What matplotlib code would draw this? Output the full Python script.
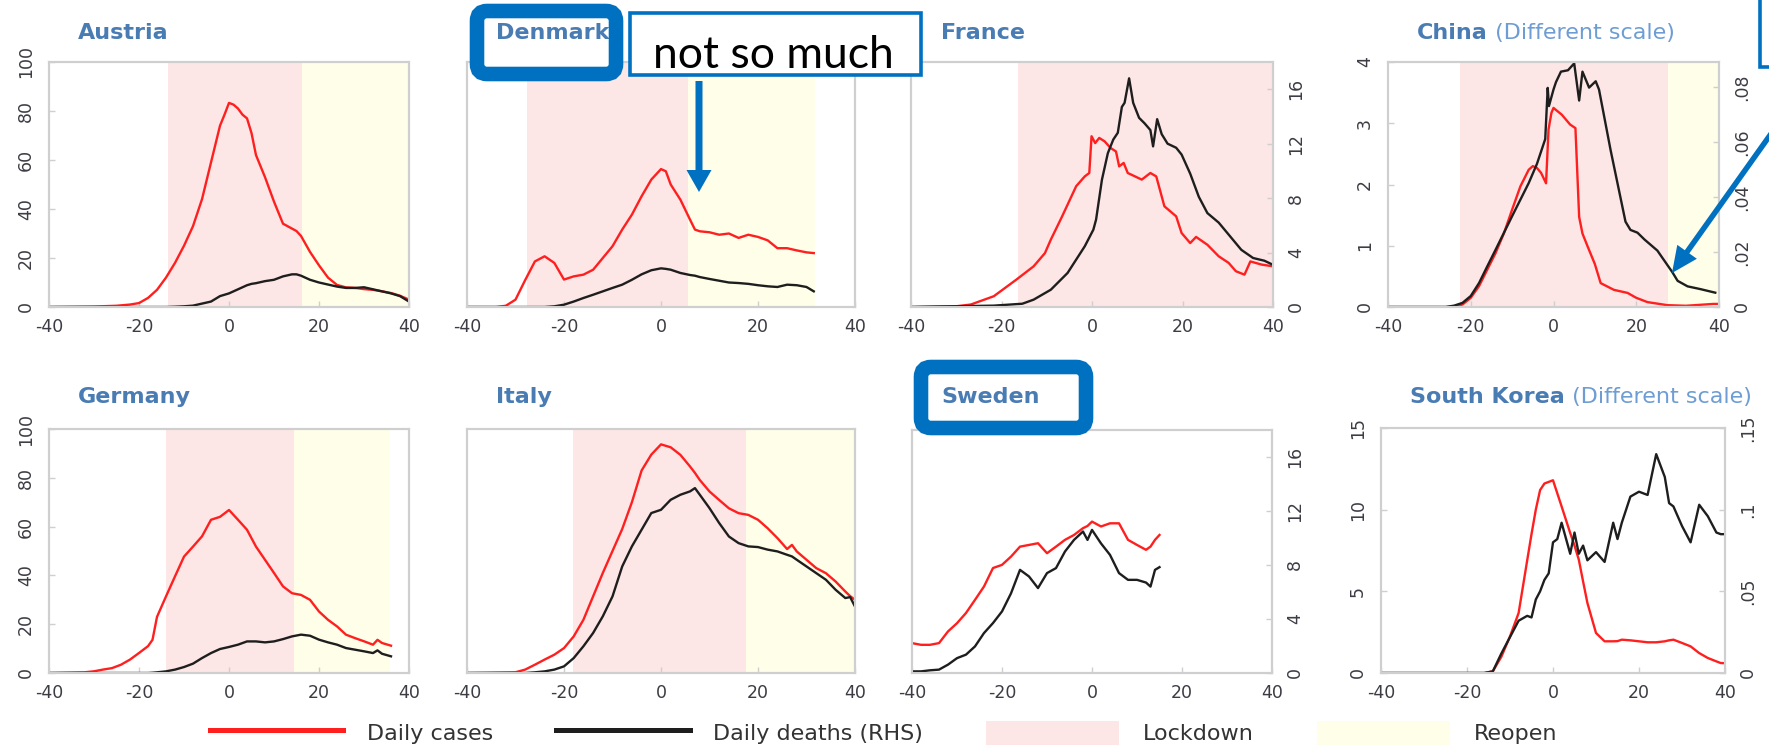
import matplotlib
matplotlib.use("Agg")
import matplotlib.pyplot as plt
from matplotlib import font_manager
from matplotlib.patches import FancyBboxPatch, Rectangle, FancyArrow, Patch
from matplotlib.lines import Line2D

# -------------------------
# Data (days around the peak)
# cases on the left axis, deaths on the right axis (RHS)
# -------------------------
aut_days = [-40, -30, -25, -22, -20, -18, -16, -14, -12, -10, -8, -6, -4, -2, -1, 0, 1, 2, 3, 4,
            5, 6, 8, 10, 12, 14, 15, 16, 18, 20, 22, 24, 26, 28, 30, 32, 34, 36, 38, 40]
aut_cases = [0, 0.2, 0.5, 1, 1.6, 3.7, 7, 12, 18, 25, 33, 44, 59, 74, 78.5, 83.3, 82.6, 81, 78.5, 77,
             71, 62, 53, 43, 34, 32, 31, 29, 22.5, 17, 12, 9, 8, 7.8, 7.3, 7, 6.4, 5.7, 4.6, 3]
aut_deaths = [0, 0, 0, 0, 0, 0, 0, 0, 0.02, 0.05, 0.1, 0.25, 0.4, 0.8, 0.9, 1.0, 1.15, 1.3, 1.45, 1.6,
              1.7, 1.75, 1.9, 2.0, 2.25, 2.4, 2.4, 2.3, 2.0, 1.8, 1.65, 1.5, 1.4, 1.4, 1.45, 1.3, 1.15, 1.0, 0.8, 0.4]
aut_lockdown = (-13.5, 16.3)
aut_reopen = (16.3, 40)

dnk_days = [-40, -34, -32, -30, -28, -26, -24, -22, -20, -18, -16, -14, -12, -10, -8, -6, -4, -2, 0, 1,
            2, 4, 6, 7, 8, 10, 12, 14, 16, 18, 20, 22, 24, 26, 28, 30, 31.5]
dnk_cases = [0, 0, 0.5, 3, 11, 18.6, 20.7, 18, 11.2, 12.5, 13.2, 15.2, 20, 24.8, 31.6, 37.7, 45.2, 52, 56.3, 55.4,
             50, 43.8, 35.6, 31.6, 30.9, 30.5, 29.5, 30, 28.2, 29.5, 28.6, 27.2, 24, 24, 23.1, 22.3, 22]
dnk_deaths = [0, 0, 0, 0, 0, 0, 0, 0.05, 0.17, 0.4, 0.66, 0.9, 1.15, 1.4, 1.64, 2.0, 2.4, 2.7, 2.84, 2.8,
              2.74, 2.5, 2.35, 2.3, 2.2, 2.06, 1.93, 1.8, 1.76, 1.7, 1.6, 1.52, 1.47, 1.64, 1.6, 1.47, 1.15]
dnk_lockdown = (-27.6, 5.5)
dnk_reopen = (5.5, 31.8)

fra_case_days = [-40, -30, -26.8, -21.7, -16.7, -12.9, -10.4, -9.1, -6.6, -3.5, -1.6, -0.6, -0.1, 0.7, 1.6,
                 2.8, 4.1, 5.3, 6.0, 7.0, 7.9, 11.0, 12.9, 14.2, 16.0, 18.6, 19.8, 21.7, 23.0, 25.5, 28.0,
                 30.2, 31.8, 33.7, 35.0, 37.5, 40]
fra_cases = [0, 0.3, 1.0, 4.4, 11.2, 16.6, 22.0, 27.5, 37.0, 49.3, 53.3, 54.7, 69.7, 66.9, 69.0,
             67.6, 64.9, 63.5, 57.4, 58.8, 54.7, 52.0, 54.7, 53.3, 41.1, 37.0, 30.2, 26.1, 28.6, 25.4, 20.7,
             18.0, 14.6, 13.2, 18.6, 17.3, 16.6]
fra_death_days = [-40, -21.7, -15.4, -12.9, -9.1, -5.4, -1.6, 0.3, 0.9, 2.2, 3.5, 4.7, 5.7, 6.6, 7.2, 8.2,
                  9.1, 10.4, 11.6, 12.9, 13.5, 14.4, 15.4, 16.7, 18.6, 19.8, 21.7, 23.6, 25.5, 28.0, 30.5,
                  33.0, 35.6, 38.1, 40]
fra_deaths = [0, 0.1, 0.24, 0.54, 1.27, 2.5, 4.46, 5.68, 6.42, 9.36, 11.3, 12.3, 12.8, 14.7, 15.0, 16.8,
              15.0, 13.9, 13.5, 13.0, 11.8, 13.8, 12.7, 12.0, 11.7, 11.2, 9.8, 8.1, 6.9, 6.2, 5.2,
              4.2, 3.6, 3.4, 3.1]
fra_lockdown = (-16.3, 40)

chn_case_days = [-40, -26, -24, -22, -20, -18, -16, -14, -12, -10, -8, -6, -5, -4, -3, -1.8, -1.2, -0.5, 0, 2,
                 4, 5.3, 6.2, 7, 8.3, 10, 11.4, 14.6, 17.9, 20, 22.7, 27.5, 32, 38.6, 40]
chn_cases = [0, 0, 0.01, 0.04, 0.15, 0.34, 0.61, 0.88, 1.2, 1.59, 1.97, 2.24, 2.3, 2.27, 2.19, 2.02, 2.9, 3.17, 3.25, 3.14,
             2.98, 2.92, 1.47, 1.2, 0.98, 0.7, 0.39, 0.28, 0.23, 0.15, 0.08, 0.03, 0.02, 0.05, 0.05]
chn_death_days = [-40, -26, -24, -22, -20, -18, -16, -14, -12, -10, -8, -6, -4, -2, -1.4, -1.1, 0, 0.6, 1.8, 3.5,
                  5.0, 6.2, 7.0, 8.6, 10.2, 11.0, 13.8, 17.4, 18.6, 20.3, 22, 25.1, 28.7, 30, 32.4, 35.5, 39.1]
chn_deaths = [0, 0, 0.0005, 0.0015, 0.004, 0.0087, 0.0148, 0.0208, 0.0269, 0.033, 0.039, 0.045, 0.052, 0.061,
              0.0796, 0.073, 0.079, 0.0817, 0.0855, 0.086, 0.0885, 0.075, 0.0855, 0.0797, 0.082, 0.079, 0.057,
              0.031, 0.028, 0.027, 0.0245, 0.0205, 0.0127, 0.0095, 0.0075, 0.0065, 0.0052]
chn_lockdown = (-22.5, 27.7)
chn_reopen = (27.7, 40)

deu_days = [-40, -32, -30, -28, -26, -24, -22, -20, -18, -17, -16, -14, -12, -10, -8, -6, -4, -2, 0, 2,
            4, 6, 8, 10, 12, 14, 16, 18, 20, 22, 24, 26, 28, 30, 32, 33, 34, 36]
deu_cases = [0, 0.3, 0.7, 1.4, 2, 3.4, 5.5, 8.2, 11, 13.6, 23, 31.4, 39.6, 47.7, 51.8, 56, 62.8, 64, 66.8, 62.8,
             58.7, 51.8, 46.4, 41, 35.5, 32.7, 32, 30, 25.2, 21.8, 19.1, 15.7, 14.3, 13, 11.6, 13.6, 12.3, 11.2]
deu_deaths = [0, 0, 0, 0, 0, 0, 0, 0, 0, 0.02, 0.05, 0.12, 0.25, 0.44, 0.69, 1.1, 1.47, 1.77, 1.92, 2.09,
              2.33, 2.33, 2.26, 2.33, 2.5, 2.7, 2.83, 2.75, 2.46, 2.26, 2.09, 1.84, 1.72, 1.6, 1.47, 1.67, 1.42, 1.23]
deu_lockdown = (-13.9, 14.4)
deu_reopen = (14.4, 35.8)

ita_days = [-40, -30, -28, -26, -24, -22, -20, -18, -16, -14, -12, -10, -8, -6, -4, -2, 0, 2, 4, 6,
            7, 8, 10, 12, 14, 16, 18, 20, 22, 24, 26, 27, 28, 30, 32, 34, 36, 38, 39, 40]
ita_cases = [0, 0.3, 1.4, 3.4, 5.5, 7.5, 10.2, 15, 21.8, 31.4, 41, 50, 59, 70, 83, 89.5, 93.7, 92.5, 89.4, 84.6,
             82, 79.1, 74.4, 70.9, 67.5, 65.5, 64.8, 62.8, 59.3, 55.3, 50.8, 52.5, 49.8, 46.4, 43, 40.9, 37.5, 33.4, 31.5, 30]
ita_deaths = [0, 0, 0, 0.05, 0.12, 0.25, 0.49, 1.1, 1.97, 2.95, 4.18, 5.65, 7.86, 9.34, 10.57, 11.8, 12.04, 12.78, 13.15, 13.4,
              13.64, 13.15, 12.16, 11.06, 10.07, 9.58, 9.34, 9.29, 9.1, 8.97, 8.72, 8.6, 8.35, 7.86, 7.37, 6.88, 6.14, 5.53, 5.6, 4.9]
ita_lockdown = (-18.2, 17.6)
ita_reopen = (17.6, 40)

swe_days = [-40, -38, -36, -34, -32, -30, -28, -26, -24, -22, -20, -18, -16, -14, -12, -10, -8, -6, -4, -2,
            -1, 0, 2, 4, 6, 8, 10, 12, 13, 14, 15]
swe_cases = [12.3, 11.6, 11.6, 12.3, 17.1, 20.5, 24.7, 30.1, 35.6, 43.2, 44.5, 47.9, 52, 52.7, 53.4, 49.3, 52, 54.8, 56.8, 59.6,
             60.5, 62.3, 60.3, 61.6, 61.6, 54.8, 52.7, 50.7, 52, 54.8, 56.8]
swe_deaths = [0.12, 0.12, 0.2, 0.25, 0.62, 1.1, 1.36, 1.97, 2.96, 3.7, 4.56, 5.9, 7.64, 7.15, 6.29, 7.4, 7.77, 9.0, 9.86, 10.48,
              9.86, 10.6, 9.6, 8.75, 7.4, 6.9, 6.9, 6.7, 6.4, 7.64, 7.84]

kor_days = [-40, -16, -14, -12, -10, -8, -6, -5, -4, -3, -2, -1, 0, 1, 2, 4, 5, 6, 7, 8,
            10, 12, 14, 15, 16, 18, 20, 22, 24, 26, 27, 28, 30, 32, 34, 36, 38, 39, 40]
kor_cases = [0, 0, 0.1, 1.0, 2.24, 3.67, 6.9, 8.5, 10, 11.2, 11.6, 11.7, 11.8, 11.0, 10.2, 8.57, 7.8, 6.94, 5.6, 4.29,
             2.45, 1.94, 1.94, 1.95, 2.04, 2.0, 1.94, 1.88, 1.88, 1.94, 2.0, 2.04, 1.84, 1.63, 1.22, 0.92, 0.71, 0.61, 0.6]
kor_deaths = [0, 0, 0.001, 0.012, 0.022, 0.032, 0.035, 0.034, 0.045, 0.05, 0.057, 0.061, 0.080, 0.082, 0.092, 0.073, 0.086, 0.073, 0.078, 0.069,
              0.074, 0.068, 0.092, 0.082, 0.092, 0.108, 0.111, 0.109, 0.134, 0.120, 0.104, 0.102, 0.090, 0.080, 0.103, 0.096, 0.086, 0.085, 0.085]

x_ticks = [-40, -20, 0, 20, 40]
share_left_ticks = [0, 20, 40, 60, 80, 100]
share_right_ticks = [0, 4, 8, 12, 16]
chn_left_ticks = [0, 1, 2, 3, 4]
chn_right_ticks = [0, 0.02, 0.04, 0.06, 0.08]
chn_right_labels = ["0", ".02", ".04", ".06", ".08"]
kor_left_ticks = [0, 5, 10, 15]
kor_right_ticks = [0, 0.05, 0.1, 0.15]
kor_right_labels = ["0", ".05", ".1", ".15"]

# -------------------------
# Style
# -------------------------
RED = "#ff1f1f"
BLACK = "#1e1e1e"
PINK = "#fde6e6"
YELLOW = "#fefee9"
SPINE = "#cfcfcf"
TITLE_BLUE = "#4a7cb4"
TITLE_LIGHT = "#6d9dd3"
NOTE_BLUE = "#0070c0"
TICK_COLOR = "#3c3c44"

avail = {f.name for f in font_manager.fontManager.ttflist}
if "Liberation Sans Narrow" in avail:
    TICK_FONT, TICK_SIZE = "Liberation Sans Narrow", 15
else:
    TICK_FONT, TICK_SIZE = "DejaVu Sans", 12.5
plt.rcParams["axes.unicode_minus"] = False

W, H = 1769, 751
fig = plt.figure(figsize=(W / 100, H / 100), dpi=100)


def px_axes(x0, y0, x1, y1):
    """Add axes from pixel box (top-left origin)."""
    return fig.add_axes([x0 / W, 1 - y1 / H, (x1 - x0) / W, (y1 - y0) / H])


def style_ticks(ax, ticks, labels):
    if ticks is None:
        ax.set_yticks([])
        return
    ax.set_yticks(ticks)
    ax.set_yticklabels(labels if labels else [str(t) for t in ticks],
                       rotation=90, va="center", fontfamily=TICK_FONT,
                       fontsize=TICK_SIZE, color=TICK_COLOR)
    ax.tick_params(axis="y", direction="in", length=4, width=1, color=SPINE, pad=10)


def draw_panel(box, case_days, cases, death_days, deaths, case_top=100, death_top=18,
               lockdown=None, reopen=None, left=None, left_labels=None,
               right=None, right_labels=None):
    ax = px_axes(*box)
    ax.set_xlim(-40, 40)
    ax.set_ylim(0, case_top)
    if lockdown:
        ax.axvspan(*lockdown, color=PINK, lw=0, zorder=0)
    if reopen:
        ax.axvspan(*reopen, color=YELLOW, lw=0, zorder=0)
    ax.plot(case_days, cases, color=RED, lw=1.7, zorder=2)

    ax2 = ax.twinx()
    ax2.set_ylim(0, death_top)
    ax2.plot(death_days, deaths, color=BLACK, lw=1.7, zorder=2)

    ax.set_xticks(x_ticks)
    ax.set_xticklabels([str(t) for t in x_ticks], fontfamily=TICK_FONT,
                       fontsize=TICK_SIZE, color=TICK_COLOR)
    ax.tick_params(axis="x", direction="in", length=4, width=1, color=SPINE, pad=8)
    style_ticks(ax, left, left_labels)
    style_ticks(ax2, right, right_labels)
    for a in (ax, ax2):
        for s in a.spines.values():
            s.set_color(SPINE)
            s.set_linewidth(1.5)
    return ax


# top row
draw_panel((49, 62, 409, 307), aut_days, aut_cases, aut_days, aut_deaths,
           lockdown=aut_lockdown, reopen=aut_reopen, left=share_left_ticks)
draw_panel((467, 62, 855, 307), dnk_days, dnk_cases, dnk_days, dnk_deaths,
           lockdown=dnk_lockdown, reopen=dnk_reopen)
draw_panel((911, 62, 1273, 307), fra_case_days, fra_cases, fra_death_days, fra_deaths,
           lockdown=fra_lockdown, right=share_right_ticks)
draw_panel((1388, 62, 1719, 307), chn_case_days, chn_cases, chn_death_days, chn_deaths,
           case_top=4, death_top=0.089, lockdown=chn_lockdown, reopen=chn_reopen,
           left=chn_left_ticks, right=chn_right_ticks, right_labels=chn_right_labels)
# bottom row
draw_panel((49, 429, 409, 673), deu_days, deu_cases, deu_days, deu_deaths,
           lockdown=deu_lockdown, reopen=deu_reopen, left=share_left_ticks)
draw_panel((467, 429, 855, 673), ita_days, ita_cases, ita_days, ita_deaths,
           lockdown=ita_lockdown, reopen=ita_reopen)
draw_panel((912, 430, 1272, 673), swe_days, swe_cases, swe_days, swe_deaths,
           right=share_right_ticks)
draw_panel((1381, 428, 1725, 673), kor_days, kor_cases, kor_days, kor_deaths,
           case_top=15, death_top=0.15, left=kor_left_ticks,
           right=kor_right_ticks, right_labels=kor_right_labels)

# -------------------------
# Overlay in pixel coords: titles, call-out boxes, arrows
# -------------------------
ov = fig.add_axes([0, 0, 1, 1], zorder=10)
ov.set_xlim(0, W)
ov.set_ylim(H, 0)
ov.axis("off")

title_font = dict(fontsize=16, fontweight="bold", color=TITLE_BLUE, va="center", ha="left", zorder=5)
titles = [("Austria", 78, 33, False), ("Denmark", 496, 33, False), ("France", 941, 33, False),
          ("China", 1417, 33, True), ("Germany", 78, 397, False), ("Italy", 496, 397, False),
          ("Sweden", 941, 397, False), ("South Korea", 1410, 397, True)]
for name, tx, ty, diff in titles:
    t = ov.text(tx, ty, name, **title_font)
    if diff:
        ov.annotate(" (Different scale)", xy=(1, 0), xycoords=t, va="bottom", ha="left",
                    fontsize=16, color=TITLE_LIGHT, zorder=5)

# rounded highlight boxes round two titles
for bx, by, bw, bh in [(477, 11, 139, 63), (921, 367, 165, 61)]:
    ov.add_patch(FancyBboxPatch((bx, by), bw, bh, boxstyle="round,pad=0,rounding_size=10",
                                fc="white", ec="none", zorder=4))
    ov.add_patch(FancyBboxPatch((bx, by), bw, bh, boxstyle="round,pad=0,rounding_size=10",
                                fc="none", ec=NOTE_BLUE, lw=10.5, zorder=6))

# "not so much" note and arrow
ov.add_patch(Rectangle((630, 13), 291, 62, fc="white", ec=NOTE_BLUE, lw=2.6, zorder=6))
ov.text(653, 68, "not so much", fontsize=32, family=["Lato", "DejaVu Sans"],
        color="black", va="baseline", ha="left", zorder=7)
ov.add_patch(FancyArrow(699, 81, 0, 111, width=7, head_width=25, head_length=22,
                        length_includes_head=True, color=NOTE_BLUE, lw=0, zorder=6))

# cut-off note at the top right and its arrow
ov.add_patch(Rectangle((1760, -20), 60, 87, fc="white", ec=NOTE_BLUE, lw=2.6, zorder=6))
ov.add_patch(FancyArrow(1778, 124, -106, 149, width=5.5, head_width=24, head_length=26,
                        length_includes_head=True, color=NOTE_BLUE, lw=0, zorder=6))

# legend
handles = [Line2D([], [], color=RED, lw=3.6),
           Line2D([], [], color=BLACK, lw=3.6),
           Patch(facecolor=PINK, edgecolor="none"),
           Patch(facecolor=YELLOW, edgecolor="none")]
labels = ["Daily cases", "Daily deaths (RHS)", "Lockdown", "Reopen"]
leg = fig.legend(handles, labels, loc="center left", bbox_to_anchor=(210 / W, 1 - 733 / H),
                 ncol=4, frameon=False, fontsize=16, handlelength=6.0, handleheight=1.35,
                 handletextpad=1.05, columnspacing=2.85, borderpad=0, borderaxespad=0)
for txt in leg.get_texts():
    txt.set_color("#333333")

fig.savefig("out.png", dpi=100)
